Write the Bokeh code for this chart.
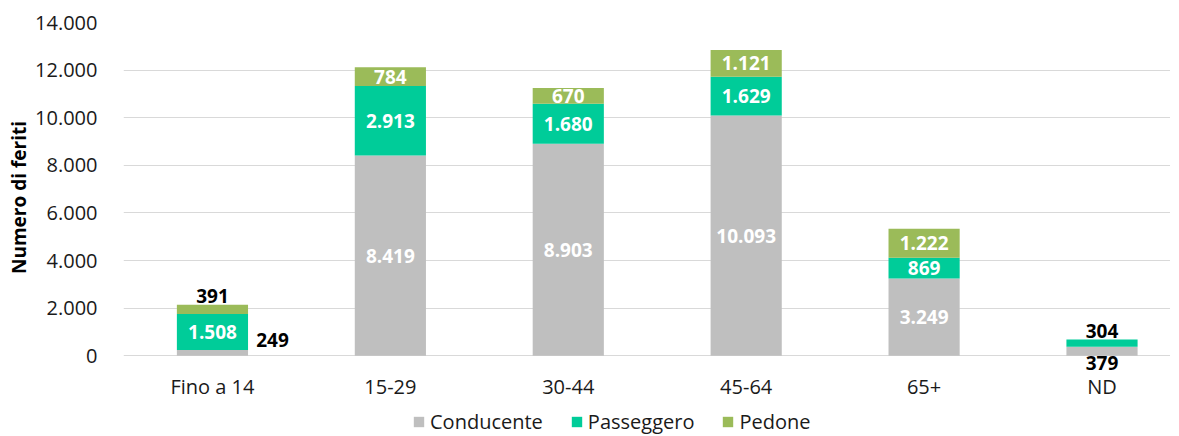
from bokeh.plotting import figure
from bokeh.layouts import column
from bokeh.models import (ColumnDataSource, Range1d, FixedTicker, Legend, LegendItem, LabelSet)
from bokeh.core.properties import value
from bokeh.embed import file_html
from bokeh.resources import INLINE

categories = ["Fino a 14", "15-29", "30-44", "45-64", "65+", "ND"]
conducente = [249, 8419, 8903, 10093, 3249, 379]
passeggero = [1508, 2913, 1680, 1629, 869, 304]
pedone = [391, 784, 670, 1121, 1222, 0]
series_names = ["Conducente", "Passeggero", "Pedone"]
y_ticks = [0, 2000, 4000, 6000, 8000, 10000, 12000, 14000]

colors = ["#BFBFBF", "#00CC99", "#9BBB59"]
FONT = "Open Sans"
W = 1170


def fmt(v):
    return f"{int(v):,}".replace(",", ".")


xs = list(range(len(categories)))
src = ColumnDataSource(dict(x=xs, Conducente=conducente, Passeggero=passeggero, Pedone=pedone))

p = figure(width=W, height=402, output_backend="svg", toolbar_location=None,
           x_range=Range1d(-0.5, 5.385), y_range=Range1d(-700, 14000),
           min_border_left=123, min_border_right=0, min_border_top=22, min_border_bottom=29)
p.outline_line_color = None
p.background_fill_color = "white"
p.border_fill_color = "white"

rs = p.vbar_stack(series_names, x="x", width=0.4, source=src, color=colors, line_color=None)

# axes
p.xaxis.ticker = FixedTicker(ticks=xs)
p.xaxis.major_label_overrides = {i: c for i, c in enumerate(categories)}
p.yaxis.ticker = FixedTicker(ticks=y_ticks)
p.yaxis.major_label_overrides = {t: fmt(t) for t in y_ticks}
for ax in (p.xaxis[0], p.yaxis[0]):
    ax.axis_line_color = None
    ax.major_tick_line_color = None
    ax.minor_tick_line_color = None
    ax.major_label_text_font = FONT
    ax.major_label_text_font_size = "20px"
    ax.major_label_text_color = "#1a1a1a"
p.xaxis.major_label_standoff = -6
p.yaxis.major_label_standoff = 20
p.yaxis.axis_label = "Numero di feriti"
p.yaxis.axis_label_text_font = FONT
p.yaxis.axis_label_text_font_size = "19px"
p.yaxis.axis_label_text_font_style = "bold"
p.yaxis.axis_label_text_color = "#000000"
p.yaxis.axis_label_standoff = 0
p.xgrid.grid_line_color = None
p.ygrid.ticker = FixedTicker(ticks=y_ticks)
p.ygrid.grid_line_color = "#D9D9D9"
p.ygrid.grid_line_width = 1
p.ygrid.level = "underlay"

# data labels
special = {
    (0, "Pedone"): ("top", 0, 9),
    (0, "Conducente"): ("mid", 60, 13),
    (5, "Passeggero"): ("top", 0, 9),
    (5, "Conducente"): ("bottom", 0, -7),
}
lx, ly, lt, lc, lxo, lyo = [], [], [], [], [], []
values = {"Conducente": conducente, "Passeggero": passeggero, "Pedone": pedone}
for i in xs:
    base = 0
    for s in series_names:
        v = values[s][i]
        if v > 0:
            anchor, xo, yo = special.get((i, s), ("mid", 0, 0))
            if anchor == "top":
                y = base + v
            elif anchor == "bottom":
                y = base
            else:
                y = base + v / 2
            lx.append(i)
            ly.append(y)
            lt.append(fmt(v))
            lc.append("#000000" if (i, s) in special else "#FFFFFF")
            lxo.append(xo)
            lyo.append(yo)
        base += v
lsrc = ColumnDataSource(dict(x=lx, y=ly, t=lt, c=lc, xo=lxo, yo=lyo))
labels = LabelSet(x="x", y="y", text="t", source=lsrc, text_color="c", x_offset="xo", y_offset="yo",
                  text_align="center", text_baseline="middle", text_font=value(FONT),
                  text_font_size=value("19px"), text_font_style="bold")
p.add_layout(labels)

# legend strip below the chart
p2 = figure(width=W, height=33, output_backend="svg", toolbar_location=None,
            x_range=Range1d(0, 1), y_range=Range1d(0, 1), x_axis_type=None, y_axis_type=None,
            min_border=0)
p2.outline_line_color = None
p2.xgrid.grid_line_color = None
p2.ygrid.grid_line_color = None
leg_renderers = [p2.vbar(x=[0.5], top=[0], bottom=[0], width=0.1, color=c, line_color=None)
                 for c in colors]
legend = Legend(items=[LegendItem(label=n, renderers=[r]) for n, r in zip(series_names, leg_renderers)],
                orientation="horizontal", location=(289, 0),
                glyph_width=13, glyph_height=13, label_standoff=5, spacing=27,
                padding=0, margin=0, border_line_color=None, background_fill_alpha=0,
                label_text_font=FONT, label_text_font_size="20px", label_text_color="#1a1a1a",
                label_height=20)
p2.add_layout(legend, "center")

layout = column(p, p2, spacing=0)
open("out.html", "w").write(file_html(layout, INLINE))
